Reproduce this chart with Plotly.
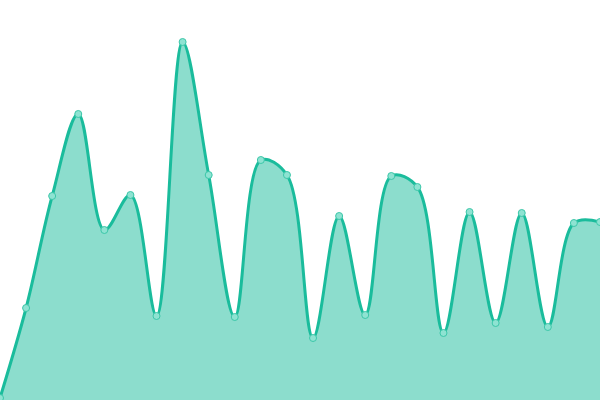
import plotly.graph_objects as go

# point index along the x axis
idx = list(range(24))
# heights (pixels above the bottom edge)
values = [2, 92, 204, 286, 170, 205, 84, 358, 225, 83, 240, 225,
          62, 184, 85, 224, 213, 67, 188, 77, 187, 73, 177, 178]

line_color = "#1abc9c"
fill_color = "rgba(26,188,156,0.5)"

fig = go.Figure()
fig.add_trace(go.Scatter(
    x=idx, y=values,
    mode="lines+markers",
    line=dict(color=line_color, width=3, shape="spline", smoothing=1),
    fill="tozeroy",
    fillcolor=fill_color,
    marker=dict(size=7, color="#8ee3d2", line=dict(color="#3cc7a9", width=1)),
    hoverinfo="skip",
))

fig.update_layout(
    width=600, height=400,
    margin=dict(l=0, r=0, t=0, b=0),
    paper_bgcolor="white", plot_bgcolor="white",
    showlegend=False,
    xaxis=dict(visible=False, range=[0, 23]),
    yaxis=dict(visible=False, range=[0, 400]),
)

# drop the default page margin so the chart sits flush in the window
fig.write_html("out.html", config={"displayModeBar": False},
               post_script="document.body.style.margin='0';")
